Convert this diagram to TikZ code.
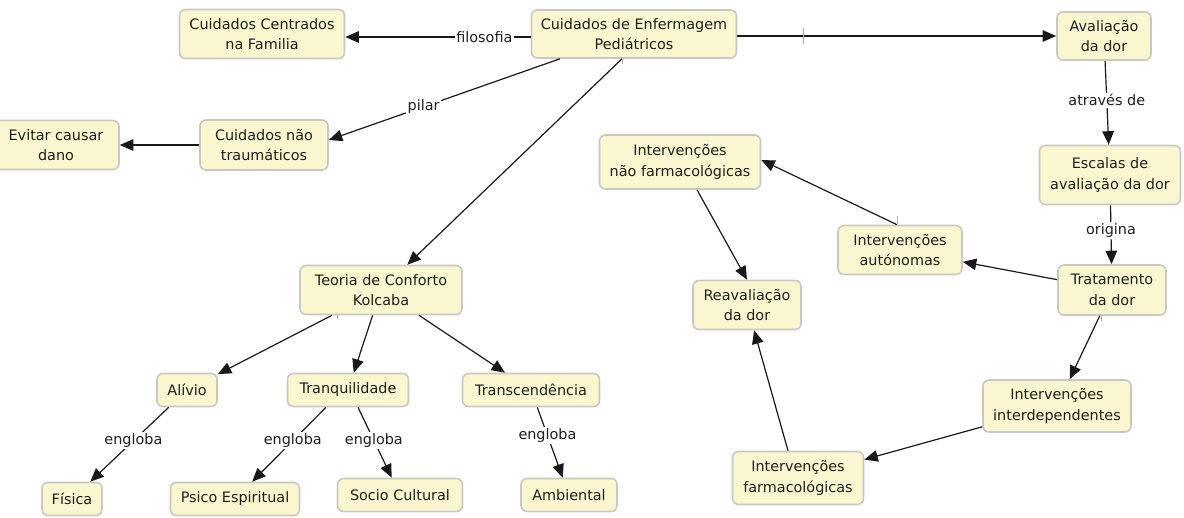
\documentclass[tikz,border=0pt]{standalone}
\usepackage{fontspec}
\setmainfont{DejaVu Sans}
\usetikzlibrary{arrows.meta,calc}
\definecolor{boxfill}{RGB}{250,247,208}
\definecolor{boxline}{RGB}{200,200,192}
\definecolor{txt}{RGB}{30,30,30}
\definecolor{tick}{RGB}{170,170,170}
\begin{document}
\begin{tikzpicture}[x=1pt,y=-1pt,
  font=\fontsize{14.4}{20.5}\selectfont,
  cbox/.style={draw=boxline, line width=1.6pt, rounded corners=6pt, fill=boxfill,
    align=center, inner sep=0pt, text=txt},
  lbl/.style={fill=white, inner sep=1.5pt, text=txt},
  link/.style={line width=1.2pt, draw=black!90, -{Triangle[length=13.5pt,width=11.5pt]}},
  tk/.style={line width=0.8pt, draw=tick}]
\useasboundingbox (0,0) rectangle (1184,517);
\begin{scope}
\clip (0,0) rectangle (1184,517);
% nodes
\node[cbox, minimum width=165pt, minimum height=49pt] (ccf) at (262,34) {Cuidados Centrados\\na Familia};
\node[cbox, minimum width=205pt, minimum height=48pt] (cep) at (634,34) {Cuidados de Enfermagem\\Pediátricos};
\node[cbox, minimum width=94pt, minimum height=48pt] (av) at (1104,36) {Avaliação\\da dor};
\node[cbox, minimum width=141pt, minimum height=59pt] (esc) at (1110,175) {Escalas de\\avaliação da dor};
\node[cbox, minimum width=108pt, minimum height=50pt] (trat) at (1112,290) {Tratamento\\da dor};
\node[cbox, minimum width=148pt, minimum height=52pt] (inter) at (1057,406) {Intervenções\\interdependentes};
\node[cbox, minimum width=131pt, minimum height=53pt] (farm) at (798,478) {Intervenções\\farmacológicas};
\node[cbox, minimum width=108pt, minimum height=49pt] (reav) at (747,305) {Reavaliação\\da dor};
\node[cbox, minimum width=161pt, minimum height=54pt] (nf) at (680,162) {Intervenções\\não farmacológicas};
\node[cbox, minimum width=124pt, minimum height=49pt] (aut) at (900,250) {Intervenções\\autónomas};
\node[cbox, minimum width=128pt, minimum height=50pt] (cnt) at (264,145) {Cuidados não\\traumáticos};
\node[cbox, minimum width=126pt, minimum height=49pt] (ev) at (56,145) {Evitar causar\\dano};
\node[cbox, minimum width=162pt, minimum height=49pt] (teo) at (381,290) {Teoria de Conforto\\Kolcaba};
\node[cbox, minimum width=60pt, minimum height=33pt] (alv) at (187,390) {Alívio};
\node[cbox, minimum width=121pt, minimum height=33pt] (tra) at (348,390) {Tranquilidade};
\node[cbox, minimum width=137pt, minimum height=33pt] (trc) at (531,390) {Transcendência};
\node[cbox, minimum width=60pt, minimum height=33pt] (fis) at (72,499) {Física};
\node[cbox, minimum width=129pt, minimum height=33pt] (psi) at (235,499) {Psico Espiritual};
\node[cbox, minimum width=125pt, minimum height=33pt] (soc) at (400,495) {Socio Cultural};
\node[cbox, minimum width=96pt, minimum height=33pt] (amb) at (569,495) {Ambiental};
\end{scope}
% connectors
\draw[link] ([yshift=-3pt]cep.west) -- node[lbl, pos=0.25]{filosofia} ([yshift=-3pt]ccf.east);
\draw[link] ([xshift=-74pt]cep.south) -- node[lbl, pos=0.59]{pilar} ([yshift=5pt]cnt.east);
\draw[link] (cnt) -- (ev);
\draw[link] ([xshift=-12pt]cep.south) -- (teo);
\draw[link] (cep.east |- av.west) -- (av.west);
\draw[link] (av) -- node[lbl, pos=0.47]{através de} (esc);
\draw[link] (esc) -- node[lbl, pos=0.42]{origina} (trat);
\draw[link] (trat) -- (aut);
\draw[link] ([xshift=-3pt]aut.north) -- ([yshift=2pt]nf.east);
\draw[link] ([xshift=17pt]nf.south) -- (reav.north);
\draw[link] (trat) -- (inter);
\draw[link] (inter) -- (farm);
\draw[link] ([xshift=-10pt]farm.north) -- (reav);
\draw[link] (teo) -- (alv);
\draw[link] (teo) -- (tra);
\draw[link] (teo) -- (trc);
\draw[link] (alv) -- node[lbl, pos=0.45]{engloba} (fis);
\draw[link] ([xshift=-22pt]tra.south) -- node[lbl, pos=0.45]{engloba} (psi);
\draw[link] ([xshift=10pt]tra.south) -- node[lbl, pos=0.47]{engloba} (soc);
\draw[link] (trc) -- node[lbl, pos=0.4]{engloba} (amb);
% small link ticks
\coordinate (t1) at (803,28);
\draw[tk] (t1) -- ++(0,16);
\coordinate (t2) at (622,58);
\draw[tk] (t2) -- ++(0,6);
\coordinate (t3) at (897,216);
\draw[tk] (t3) -- ++(0,8);
\coordinate (t4) at (337,314);
\draw[tk] (t4) -- ++(0,5);
\coordinate (t5) at (1101,315);
\draw[tk] (t5) -- ++(0,6);
\end{tikzpicture}
\end{document}
